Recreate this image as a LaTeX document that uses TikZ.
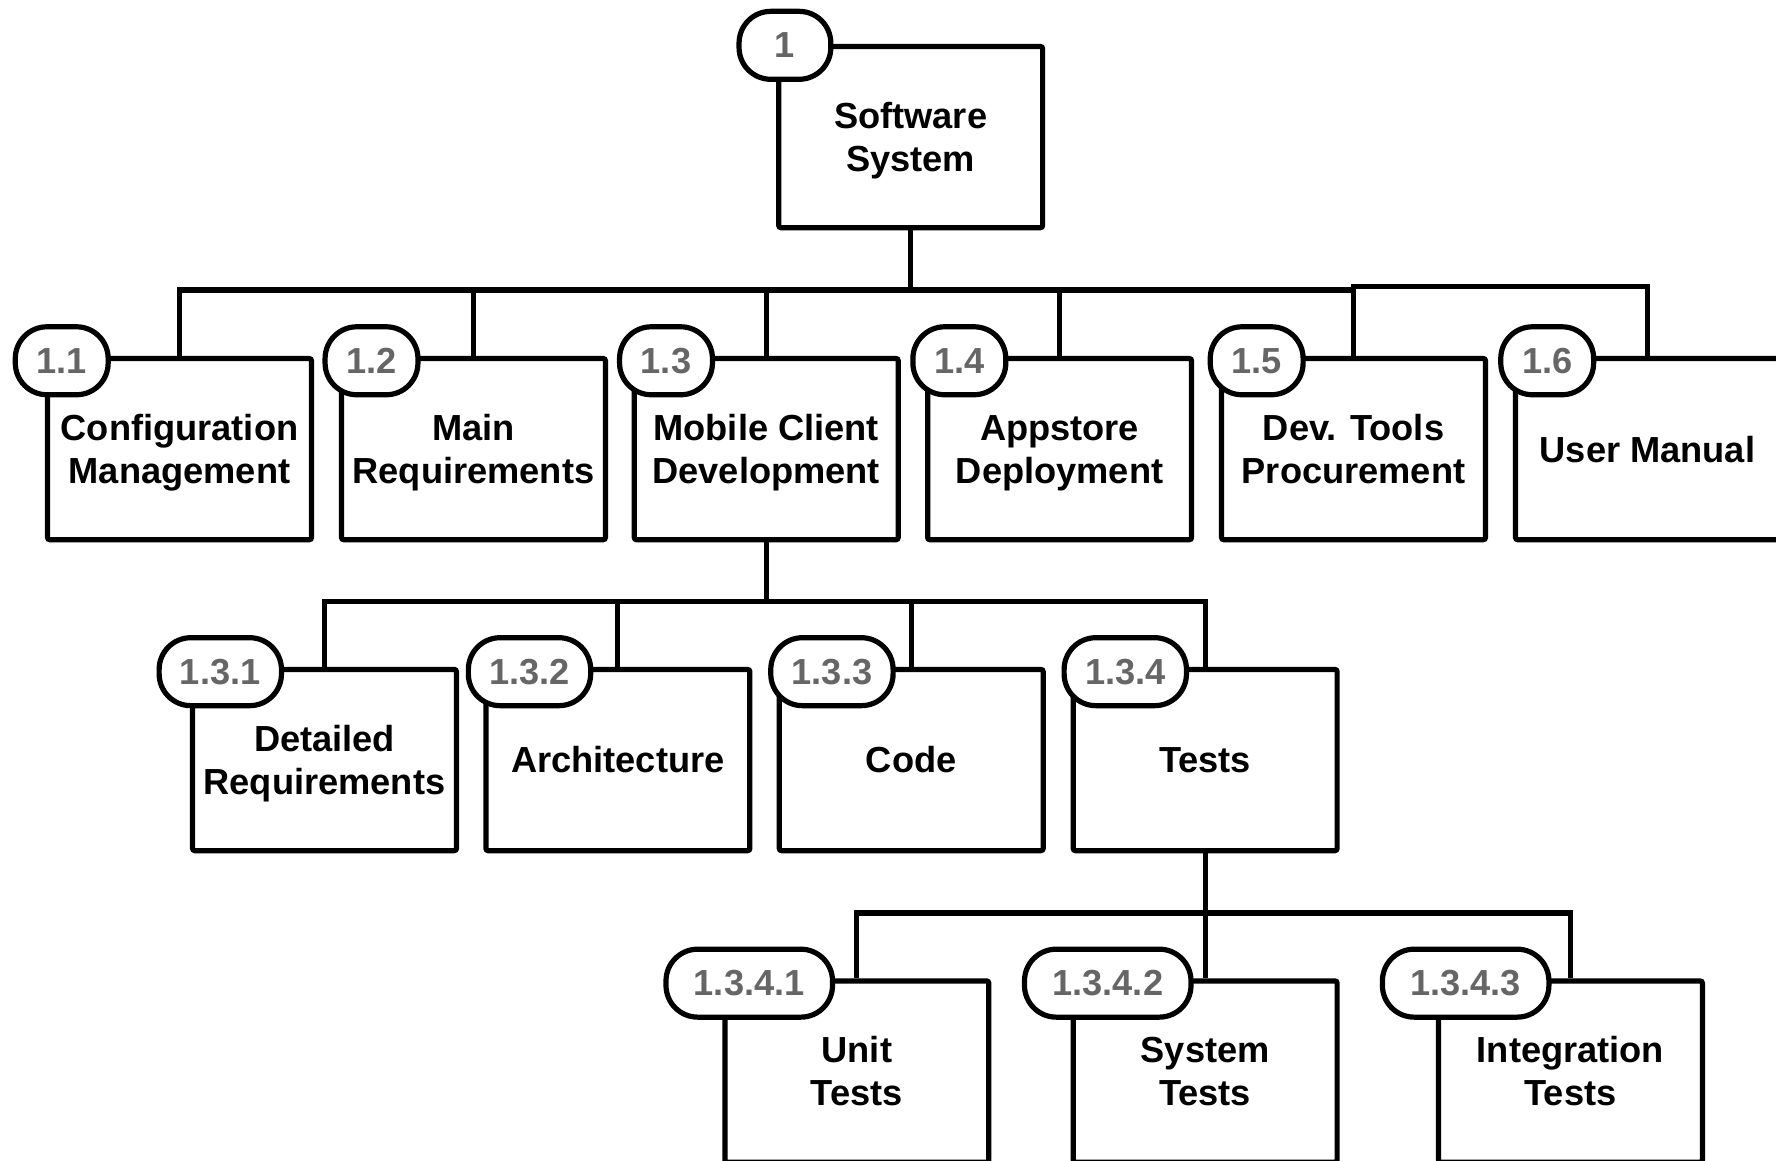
\documentclass[tikz,border=0pt]{standalone}
\usepackage{fontspec}
\setmainfont{Liberation Sans}
\definecolor{badgegray}{RGB}{102,102,102}
\newcommand{\wbsstrut}{\rule[-3.6pt]{0pt}{18.6pt}}
\begin{document}
\begin{tikzpicture}[x=0.5pt,y=-0.5pt,
  ln/.style={line width=2.3pt},
  wbs/.style={draw, line width=2.3pt, fill=white, minimum width=116.5pt, minimum height=80pt,
    inner sep=0pt, align=center, font=\bfseries\fontsize{16}{19}\selectfont, rounded corners=1pt},
  badge/.style={draw, line width=2.3pt, fill=white, minimum height=30pt, inner sep=0pt,
    rounded corners=14pt, text=badgegray, font=\bfseries\fontsize{16}{18}\selectfont},
]
\useasboundingbox (0,0) rectangle (1568,1025);
% boxes
\node[wbs] (r) at (804,121) {\wbsstrut Software\\\wbsstrut System};
\node[wbs] (a1) at (158.5,396.5) {\wbsstrut Configuration\\\wbsstrut Management};
\node[wbs] (a2) at (418,396.5) {\wbsstrut Main\\\wbsstrut Requirements};
\node[wbs] (a3) at (676.5,396.5) {\wbsstrut Mobile Client\\\wbsstrut Development};
\node[wbs] (a4) at (935.5,396.5) {\wbsstrut Appstore\\\wbsstrut Deployment};
\node[wbs] (a5) at (1195,396.5) {\wbsstrut Dev. Tools\\\wbsstrut Procurement};
\node[wbs] (a6) at (1454.5,396.5) {\wbsstrut User Manual};
\node[wbs] (b1) at (286.5,671) {\wbsstrut Detailed\\\wbsstrut Requirements};
\node[wbs] (b2) at (545.5,671) {\wbsstrut Architecture};
\node[wbs] (b3) at (804.5,671) {\wbsstrut Code};
\node[wbs] (b4) at (1064,671) {\wbsstrut Tests};
\node[wbs] (c1) at (756.5,946) {\wbsstrut Unit\\\wbsstrut Tests};
\node[wbs] (c2) at (1064,946) {\wbsstrut System\\\wbsstrut Tests};
\node[wbs] (c3) at (1386.5,946) {\wbsstrut Integration\\\wbsstrut Tests};
% badges
\node[badge, minimum width=40.5pt] (nr) at (693,40) {1};
\node[badge, minimum width=41pt] (na1) at (54.5,318.5) {1.1};
\node[badge, minimum width=41pt] (na2) at (328,318.5) {1.2};
\node[badge, minimum width=41pt] (na3) at (588,318.5) {1.3};
\node[badge, minimum width=41pt] (na4) at (847,318.5) {1.4};
\node[badge, minimum width=41pt] (na5) at (1109.5,318.5) {1.5};
\node[badge, minimum width=41pt] (na6) at (1366,318.5) {1.6};
\node[badge, minimum width=54pt] (nb1) at (194.5,593) {1.3.1};
\node[badge, minimum width=54pt] (nb2) at (467.5,593) {1.3.2};
\node[badge, minimum width=54pt] (nb3) at (734.5,593) {1.3.3};
\node[badge, minimum width=54pt] (nb4) at (993.5,593) {1.3.4};
\node[badge, minimum width=73.5pt] (nc1) at (661.5,868) {1.3.4.1};
\node[badge, minimum width=73.5pt] (nc2) at (978,868) {1.3.4.2};
\node[badge, minimum width=73.5pt] (nc3) at (1294,868) {1.3.4.3};
% connectors
\coordinate (j0) at (804,256);
\coordinate (j6) at (1195,253);
\coordinate (j3) at (676.5,531);
\coordinate (j4) at (1064,806);
\draw[ln] (r.south) -- (j0);
\draw[ln] (a1.north) |- (j0) -| (a5.north);
\draw[ln] (a2.north) -- (a2.north |- j0);
\draw[ln] (a3.north) -- (a3.north |- j0);
\draw[ln] (a4.north) -- (a4.north |- j0);
\draw[ln] (a6.north) |- (j6) -- (a5.north |- j0);
\draw[ln] (a3.south) -- (j3);
\draw[ln] (b1.north) |- (j3) -| (b4.north);
\draw[ln] (b2.north) -- (b2.north |- j3);
\draw[ln] (b3.north) -- (b3.north |- j3);
\draw[ln] (b4.south) -- (c2.north);
\draw[ln] (c1.north) |- (j4) -| (c3.north);
\end{tikzpicture}
\end{document}
